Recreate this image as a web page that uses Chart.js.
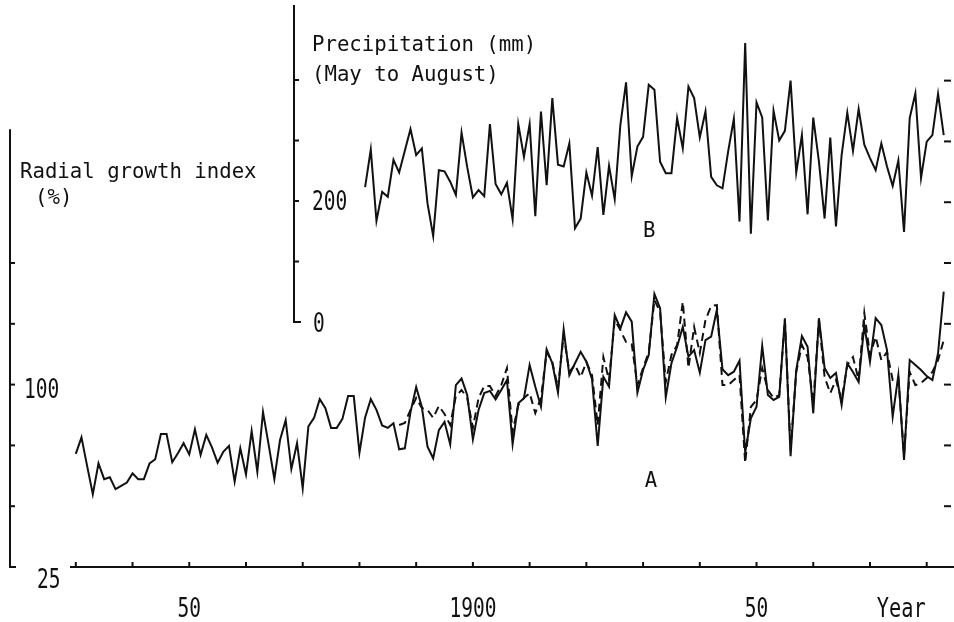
<!DOCTYPE html>
<html>
<head>
<meta charset="utf-8">
<script src="https://cdn.jsdelivr.net/npm/chart.js@4"></script>
<style>
  html, body { margin: 0; padding: 0; background: #fff; }
  canvas { display: block; }
</style>
</head>
<body>
<canvas id="chart" width="954" height="622"></canvas>
<script>
// A: radial growth index (%), solid line, one value per year from 1830
const growthStart = 1830;
const growthIndex = [
  71.5, 78.3, 66.5, 54.9, 67.6, 61.1, 61.9, 57.0, 58.4, 59.7,
  63.5, 61.1, 61.1, 67.6, 69.3, 79.7, 79.7, 68.1, 71.8, 75.9,
  71.3, 81.6, 71.1, 79.3, 74.2, 67.9, 72.4, 74.8, 60.1, 73.8,
  63.1, 80.9, 64.2, 88.7, 75.2, 61.2, 77.2, 85.4, 65.3, 75.9,
  57.4, 82.8, 86.3, 94.0, 90.3, 82.2, 82.2, 85.9, 95.3, 95.3,
  72.0, 86.5, 94.0, 89.6, 83.2, 82.2, 84.1, 73.4, 73.8, 88.7,
  99.0, 90.8, 74.5, 69.7, 81.3, 84.7, 75.4, 99.8, 102.5, 95.7,
  77.5, 89.6, 96.5, 97.4, 93.9, 97.8, 101.9, 75.5, 92.3, 94.4,
  108.1, 99.1, 90.9, 114.5, 108.8, 96.7, 122.7, 103.9, 108.8, 113.5,
  109.4, 102.2, 74.8, 103.2, 99.1, 128.6, 123.1, 129.7, 125.9, 96.7,
  106.0, 112.2, 137.3, 131.4, 94.8, 108.8, 115.6, 123.8, 111.5, 114.2,
  104.9, 118.3, 119.7, 130.7, 106.3, 103.9, 105.3, 109.8, 72.0, 86.1,
  90.9, 115.9, 95.7, 93.7, 95.0, 127.3, 70.6, 106.0, 120.0, 115.6,
  88.2, 127.3, 106.8, 102.7, 104.8, 91.6, 108.8, 105.2, 101.1, 124.5,
  109.4, 127.3, 124.5, 114.2, 86.8, 103.9, 69.0, 110.1, 108.1, 106.0,
  103.5, 101.9, 112.9, 138.2
];

// A: second growth series (dashed), from 1887
const growthAltStart = 1887;
const growthIndexAlt = [
  83.4, 84.2, 89.6,
  94.5, 90.4, 89.6, 86.3, 91.2, 87.9, 83.4, 95.3, 97.8, 94.5,
  82.2, 94.5, 99.4, 99.4, 95.3, 99.8, 106.8, 80.5, 91.6, 94.5,
  96.5, 88.3, 94.5, 113.4, 109.3, 98.6, 120.4, 105.2, 108.1, 103.1,
  109.3, 103.9, 83.4, 111.3, 101.9, 126.6, 122.4, 117.5, 116.7, 99.8,
  106.8, 113.4, 134.8, 129.9, 101.1, 112.2, 116.3, 134.0, 106.8, 123.7,
  113.0, 126.6, 132.3, 132.7, 99.8, 99.8, 101.9, 103.9, 67.8, 90.8,
  93.7, 106.8, 97.8, 94.5, 95.7, 126.6, 73.1, 105.2, 116.3, 111.3,
  92.4, 126.6, 103.1, 96.5, 101.9, 93.7, 108.1, 111.3, 101.9, 129.4,
  112.2, 119.6, 110.1, 113.4, 101.9, 102.7, 71.1, 105.2, 99.8, 100.7,
  102.7, 105.2, 110.1, 118.3
];

// B: precipitation May to August (mm), from 1881
const precipStart = 1881;
const precipitation = [
  223, 285, 167, 215, 207, 268, 247, 283, 319,
  276, 287, 196, 142, 251, 249, 232, 210, 313, 256,
  206, 218, 208, 327, 228, 211, 230, 170, 327, 273,
  327, 175, 348, 226, 370, 260, 257, 295, 155, 171,
  247, 209, 289, 177, 258, 203, 326, 396, 241, 290,
  306, 392, 384, 265, 246, 246, 337, 287, 389, 370,
  305, 348, 240, 226, 221, 282, 336, 166, 461, 146,
  363, 338, 168, 349, 300, 316, 399, 247, 309, 178,
  338, 265, 171, 305, 158, 276, 346, 283, 352, 293,
  271, 251, 295, 257, 225, 267, 149, 337, 378, 238,
  298, 309, 377, 309
];

const yearTicks = [1830, 1840, 1850, 1860, 1870, 1880, 1890, 1900, 1910, 1920, 1930, 1940, 1950, 1960, 1970, 1980];
const yearLabels = { 1850: '50', 1900: '1900', 1950: '50' };
const growthTicks = [50, 75, 100, 125, 150];
const growthLabels = [100, 25];
const rightTicks = [50, 75, 100, 125, 150, 175, 200, 225];
const precipTicks = [100, 200, 300, 400];
const precipLabels = [200, 0];

const ink = '#111';
const FONT = '"DejaVu Sans Mono", "Liberation Mono", monospace';

function toPoints(start, values) {
  return values.map((v, i) => ({ x: start + i, y: v }));
}

function text(ctx, str, x, y, size, sx, align) {
  ctx.save();
  ctx.font = size + 'px ' + FONT;
  ctx.textAlign = align || 'left';
  ctx.textBaseline = 'alphabetic';
  ctx.translate(x, y);
  ctx.scale(sx, 1);
  ctx.fillText(str, 0, 0);
  ctx.restore();
}

function seg(ctx, x1, y1, x2, y2) {
  ctx.beginPath();
  ctx.moveTo(x1, y1);
  ctx.lineTo(x2, y2);
  ctx.stroke();
}

const plotterAxes = {
  id: 'plotterAxes',
  afterDatasetsDraw(chart) {
    const { ctx, chartArea } = chart;
    const x = chart.scales.x, yA = chart.scales.yA, yB = chart.scales.yB;
    ctx.save();
    ctx.strokeStyle = ink;
    ctx.fillStyle = ink;
    ctx.lineWidth = 2;
    ctx.lineCap = 'butt';

    // growth axis (left)
    const ax = chartArea.left;
    const aBottom = yA.getPixelForValue(25);
    seg(ctx, ax, yA.getPixelForValue(205), ax, aBottom);
    seg(ctx, ax - 1, aBottom, ax + 6, aBottom);
    growthTicks.forEach(v => {
      const py = yA.getPixelForValue(v);
      seg(ctx, ax, py, ax + 5, py);
    });

    // precipitation axis (inner)
    const bx = 294;
    const bZero = yB.getPixelForValue(0);
    seg(ctx, bx, chartArea.top, bx, bZero);
    seg(ctx, bx - 1, bZero, bx + 7, bZero);
    precipTicks.forEach(v => {
      const py = yB.getPixelForValue(v);
      seg(ctx, bx, py, bx + 5, py);
    });

    // year axis
    seg(ctx, 70, aBottom, chart.width, aBottom);
    yearTicks.forEach(yr => {
      const px = x.getPixelForValue(yr);
      seg(ctx, px, aBottom, px, aBottom - 5);
    });

    // right-hand ticks
    rightTicks.forEach(v => {
      const py = yA.getPixelForValue(v);
      seg(ctx, chartArea.right - 2, py, chartArea.right + 5, py);
    });

    // labels
    text(ctx, 'Radial growth index', 20, 178, 22, 0.94);
    text(ctx, '(%)', 35, 204, 22, 0.94);
    text(ctx, 'Precipitation (mm)', 312, 51, 22, 0.94);
    text(ctx, '(May to August)', 312, 81, 22, 0.94);

    text(ctx, String(growthLabels[0]), 24, yA.getPixelForValue(growthLabels[0]) + 13, 26, 0.75);
    text(ctx, String(growthLabels[1]), 37, yA.getPixelForValue(growthLabels[1]) + 21, 26, 0.75);
    text(ctx, String(precipLabels[0]), 312, yB.getPixelForValue(precipLabels[0]) + 9, 26, 0.75);
    text(ctx, String(precipLabels[1]), 313, yB.getPixelForValue(precipLabels[1]) + 10, 26, 0.75);

    Object.keys(yearLabels).forEach(yr => {
      text(ctx, yearLabels[yr], x.getPixelForValue(Number(yr)), 617, 26, 0.75, 'center');
    });
    text(ctx, 'Year', x.getPixelForValue(1975.5), 617, 26, 0.78, 'center');

    text(ctx, 'B', 643, 237, 22, 0.94);
    text(ctx, 'A', 651, 487, 22, 0.94, 'center');
    ctx.restore();
  }
};

new Chart(document.getElementById('chart'), {
  type: 'line',
  data: {
    datasets: [
      {
        label: 'Radial growth index',
        data: toPoints(growthStart, growthIndex),
        yAxisID: 'yA',
        borderColor: ink,
        borderWidth: 2,
        pointRadius: 0,
        tension: 0
      },
      {
        label: 'Radial growth index (second series)',
        data: toPoints(growthAltStart, growthIndexAlt),
        yAxisID: 'yA',
        borderColor: ink,
        borderWidth: 2,
        borderDash: [8, 5],
        pointRadius: 0,
        tension: 0
      },
      {
        label: 'Precipitation (mm)',
        data: toPoints(precipStart, precipitation),
        yAxisID: 'yB',
        borderColor: ink,
        borderWidth: 2,
        pointRadius: 0,
        tension: 0
      }
    ]
  },
  options: {
    responsive: false,
    devicePixelRatio: 1,
    animation: false,
    layout: { padding: { left: 10, right: 8, top: 5, bottom: 55 } },
    plugins: { legend: { display: false }, tooltip: { enabled: false } },
    scales: {
      x: { type: 'linear', min: 1818.4, max: 1983.4, display: false },
      yA: { type: 'linear', position: 'left', min: 25, max: 256.1, display: false },
      yB: { type: 'linear', position: 'left', min: -405, max: 524, display: false }
    }
  },
  plugins: [plotterAxes]
});
</script>
</body>
</html>
